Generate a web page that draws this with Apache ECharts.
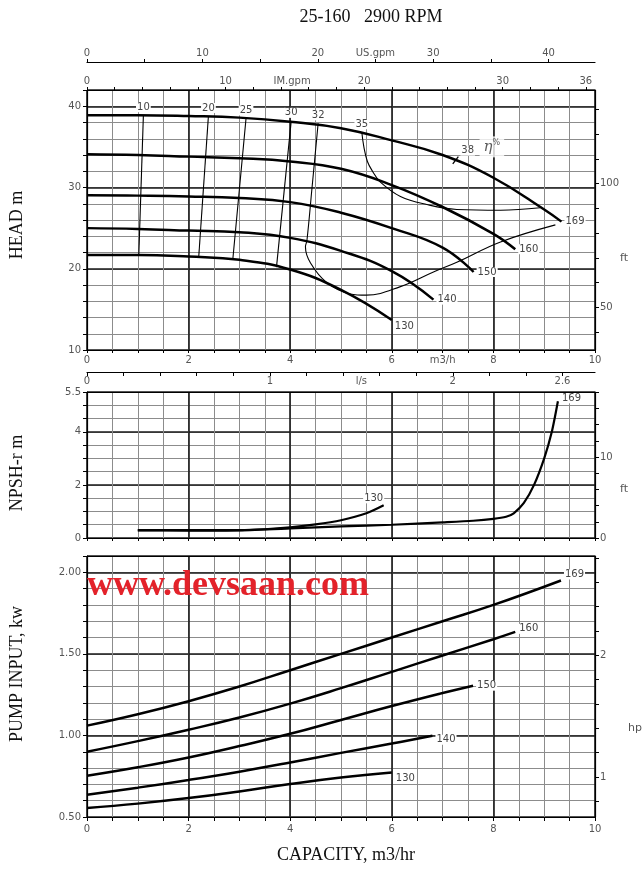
<!DOCTYPE html>
<html><head><meta charset="utf-8">
<script src="https://cdn.jsdelivr.net/npm/echarts@6/dist/echarts.min.js"></script>
<style>html,body{margin:0;padding:0;background:#fff}#c{width:644px;height:875px}</style>
</head><body><div id="c"></div>
<script>
// ---------------- DATA ----------------
// Head curves per impeller diameter: [flow m3/h, head m]
const head169 = [[0,38.9],[1,38.9],[2,38.8],[3,38.6],[4,38.1],[5,37.3],[6,35.8],[7,34.0],[8,31.2],[9,27.3],[9.34,25.8]];
const head160 = [[0,34.1],[1,34.0],[2,33.8],[3,33.6],[4,33.2],[5,32.3],[6,30.3],[7,27.6],[8,24.3],[8.43,22.4]];
const head150 = [[0,29.05],[1,29.0],[2,28.9],[3,28.7],[4,28.2],[5,26.9],[6,25.0],[7,22.6],[7.61,19.6]];
const head140 = [[0,25.0],[1,24.9],[2,24.7],[3,24.5],[4,23.8],[5,22.2],[6,19.7],[6.82,16.2]];
const head130 = [[0,21.7],[1,21.7],[2,21.5],[3,21.1],[4,19.9],[5,17.4],[6,13.7]];
// Iso-efficiency lines (%): [flow m3/h, head m]
const eff10 = [[1.11,38.9],[1.02,21.7]];
const eff20 = [[2.39,38.8],[2.20,21.5]];
const eff25 = [[3.13,38.5],[2.87,21.1]];
const eff30 = [[4.02,38.2],[3.73,20.2]];
const eff32 = [[4.55,37.9],[4.43,30.0],[4.33,23.5],[4.30,22.7],[4.40,20.7],[4.72,18.3],[5.18,16.9],[5.5,16.75],[6.17,17.8],[6.82,19.6],[7.28,20.8],[8.14,23.3],[9.22,25.4]];
const eff35 = [[5.41,36.8],[5.45,35.0],[5.52,33.2],[5.62,32.0],[5.77,30.7],[6.17,28.9],[6.69,27.9],[7.28,27.3],[8.14,27.2],[8.92,27.5]];
const eff38 = [[7.2,32.9],[7.31,33.8]];
// NPSH-r curves: [flow m3/h, NPSH m]
const npsh169 = [[1,0.29],[2,0.28],[3,0.29],[4,0.36],[5,0.44],[6,0.5],[7,0.59],[7.6,0.65],[8,0.72],[8.25,0.8],[8.4,0.93],[8.6,1.32],[8.8,2.0],[9.0,3.0],[9.15,4.0],[9.27,5.15]];
const npsh130 = [[1,0.30],[2,0.30],[3,0.30],[3.5,0.33],[4,0.40],[4.5,0.51],[5,0.67],[5.5,0.93],[5.84,1.23]];
// Pump input power: [flow m3/h, kW]
const pow169 = [[0,1.06],[1,1.13],[2,1.21],[3,1.30],[4,1.40],[5,1.50],[6,1.60],[7,1.70],[8,1.80],[9.33,1.95]];
const pow160 = [[0,0.90],[1,0.965],[2,1.035],[3,1.11],[4,1.195],[5,1.29],[6,1.39],[7,1.49],[8,1.59],[8.43,1.635]];
const pow150 = [[0,0.753],[1,0.805],[2,0.865],[3,0.935],[4,1.01],[5,1.095],[6,1.18],[7,1.26],[7.6,1.305]];
const pow140 = [[0,0.637],[1,0.68],[2,0.727],[3,0.778],[4,0.834],[5,0.893],[6,0.95],[6.8,0.998]];
const pow130 = [[0,0.555],[1,0.582],[2,0.616],[3,0.657],[4,0.702],[5,0.742],[6,0.773]];
// Secondary unit tick values / labels
const usGpmTicks = [0,5,10,15,20,25,30,35,40];
const usGpmLabels = [0,10,20,30,40];
const imGpmTicks = [0,2,4,6,8,10,12,14,16,18,20,22,24,26,28,30,32,34,36];
const imGpmLabels = [0,10,20,30,36];
const lsTicks = [0,0.2,0.4,0.6,0.8,1.0,1.2,1.4,1.6,1.8,2.0,2.2,2.4,2.6];
const lsLabels = [0,1,2,2.6];
const headFtTicks = [40,50,60,70,80,90,100,110,120,130];
const headFtLabels = [50,100];
const npshFtTicks = [0,2,4,6,8,10,12,14,16,18];
const npshFtLabels = [0,10];
const hpTicks = [0.8,1.0,1.2,1.4,1.6,1.8,2.0,2.2,2.4,2.6,2.8];
const hpLabels = [1,2];
const flowLabels = [0,2,4,6,8,10];

// ---------------- CONVERSIONS ----------------
const USGPM = 4.4029, IMGPM = 3.6662, LS = 1/3.6, FT = 3.2808, HP = 1.341;

const FONT = 'DejaVu Sans';
const txt = (o) => Object.assign({fontFamily: FONT, fontSize: 10, color: '#555'}, o || {});
const THIN = {show: true, lineStyle: {color: '#8c8c8c', width: 1}};
const THICK = {show: true, lineStyle: {color: '#1a1a1a', width: 1.6}};
const LINE = {onZero: false, lineStyle: {color: '#000', width: 1.2}};
const near = (a, b) => Math.abs(a - b) < 0.02;

function helperAxis(grid, pos, min, max, interval, showLine) {
  return {gridIndex: grid, type: 'value', position: pos, min, max, interval,
    axisLine: showLine ? LINE : {show: false}, axisTick: {show: false}, axisLabel: {show: false},
    splitLine: THICK};
}
function unitAxis(grid, pos, offset, min, max, ticks, labels, factor, extraLabel, unitName, opts) {
  opts = opts || {};
  const lab = labels.slice();
  if (extraLabel != null) lab.push(extraLabel);
  return {gridIndex: grid, type: 'value', position: pos, offset, min, max,
    axisLine: LINE,
    axisTick: {show: true, length: opts.tickLen || 3, inside: !!opts.inside, customValues: ticks.map(t => t / factor), lineStyle: {color: '#000'}},
    axisLabel: Object.assign(txt(), {show: true, inside: !!opts.inside, margin: opts.margin || 4,
      customValues: lab.map(t => t / factor),
      formatter: function (v) {
        const u = v * factor;
        if (extraLabel != null && near(u, extraLabel)) return opts.rich ? '{u|' + unitName + '}' : unitName;
        return String(Math.round(u * 10) / 10);
      },
      rich: opts.rich || undefined}),
    splitLine: {show: false}};
}

function curve(name, pts, xi, yi, width, labelOpt, labelAtStart, smooth) {
  const li = labelAtStart ? 0 : pts.length - 1;
  return {
    type: 'line', name, xAxisIndex: xi, yAxisIndex: yi, silent: true, animation: false,
    symbol: 'circle', symbolSize: 0, showSymbol: true, showAllSymbol: true,
    smooth: smooth == null ? 0.45 : smooth,
    lineStyle: {color: '#000', width},
    label: {show: false}, emphasis: {disabled: true}, z: 5,
    data: pts.map((p, i) => (labelOpt && i === li) ? {value: p, label: Object.assign(txt({
      show: true, formatter: name, backgroundColor: '#fff', padding: [0, 1], color: '#444'}), labelOpt)} : p)
  };
}

const chart = echarts.init(document.getElementById('c'), null, {renderer: 'canvas'});

const option = {
  backgroundColor: '#fff',
  animation: false,
  grid: [
    {left: 87, top: 90, width: 508, height: 260, outerBoundsMode: 'none', containLabel: false},
    {left: 87, top: 392, width: 508, height: 146, outerBoundsMode: 'none', containLabel: false},
    {left: 87, top: 556, width: 508, height: 261, outerBoundsMode: 'none', containLabel: false}
  ],
  xAxis: [
    // 0 head main (m3/h)
    {gridIndex: 0, type: 'value', position: 'bottom', min: 0, max: 10, interval: 0.5, axisLine: LINE,
      axisTick: {show: true, length: 3, lineStyle: {color: '#000'}},
      axisLabel: txt({margin: 5, formatter: v => v === 7 ? 'm3/h' : (flowLabels.indexOf(v) >= 0 ? String(v) : '')}),
      splitLine: THIN},
    // 1 head thick verticals
    helperAxis(0, 'top', 0, 10, 2, false),
    // 2 IM gpm
    unitAxis(0, 'top', 0, 0, 10, imGpmTicks, imGpmLabels, IMGPM, 14.8, 'IM.gpm'),
    // 3 US gpm
    unitAxis(0, 'top', 28, 0, 10, usGpmTicks, usGpmLabels, USGPM, 25, 'US.gpm'),
    // 4 npsh main
    {gridIndex: 1, type: 'value', position: 'bottom', min: 0, max: 10, interval: 0.5, axisLine: LINE,
      axisTick: {show: true, length: 3, lineStyle: {color: '#000'}}, axisLabel: {show: false}, splitLine: THIN},
    // 5 npsh thick + top border
    helperAxis(1, 'top', 0, 10, 2, true),
    // 6 l/s
    unitAxis(1, 'top', 20, 0, 10, lsTicks, lsLabels, LS, 1.5, 'l/s', {inside: true, tickLen: 4, margin: 4}),
    // 7 power main
    {gridIndex: 2, type: 'value', position: 'bottom', min: 0, max: 10, interval: 0.5, axisLine: LINE,
      axisTick: {show: true, length: 4, lineStyle: {color: '#000'}},
      axisLabel: txt({margin: 7, formatter: v => flowLabels.indexOf(v) >= 0 ? String(v) : ''}),
      splitLine: THIN},
    // 8 power thick + top border
    helperAxis(2, 'top', 0, 10, 2, true)
  ],
  yAxis: [
    // 0 head main
    {gridIndex: 0, type: 'value', position: 'left', min: 10, max: 42, interval: 2, axisLine: LINE,
      axisTick: {show: true, length: 4, lineStyle: {color: '#000'}},
      axisLabel: txt({margin: 6, formatter: v => (v % 10 === 0 && v <= 40) ? String(v) : ''}),
      splitLine: THIN},
    // 1 head thick
    helperAxis(0, 'left', 10, 42, 10, false),
    // 2 head ft
    unitAxis(0, 'right', 0, 10, 42, headFtTicks, headFtLabels, FT, 70, 'ft',
      {tickLen: 4, margin: 5, rich: {u: txt({fontSize: 11, padding: [0, 0, 0, 20]})}}),
    // 3 npsh main
    {gridIndex: 1, type: 'value', position: 'left', min: 0, max: 5.5, interval: 0.5, axisLine: LINE,
      axisTick: {show: true, length: 4, lineStyle: {color: '#000'}},
      axisLabel: txt({margin: 6, formatter: v => (v === 0 || v === 2 || v === 4 || v === 5.5) ? String(v) : ''}),
      splitLine: THIN},
    // 4 npsh thick
    helperAxis(1, 'left', 0, 5.5, 2, false),
    // 5 npsh ft
    unitAxis(1, 'right', 0, 0, 5.5, npshFtTicks, npshFtLabels, FT, 6, 'ft',
      {tickLen: 4, margin: 5, rich: {u: txt({fontSize: 11, padding: [0, 0, 0, 20]})}}),
    // 6 power main
    {gridIndex: 2, type: 'value', position: 'left', min: 0.5, max: 2.1, interval: 0.1, axisLine: LINE,
      axisTick: {show: true, length: 4, lineStyle: {color: '#000'}},
      axisLabel: txt({margin: 6, formatter: function (v) {
        const r = Math.round(v * 100) / 100;
        return (Math.abs(r * 2 - Math.round(r * 2)) < 1e-6 && r <= 2.0) ? r.toFixed(2) : '';
      }}),
      splitLine: THIN},
    // 7 power thick
    helperAxis(2, 'left', 0.5, 2.1, 0.5, false),
    // 8 hp
    unitAxis(2, 'right', 0, 0.5, 2.1, hpTicks, hpLabels, HP, 1.4, 'hp',
      {tickLen: 4, margin: 5, rich: {u: txt({fontSize: 11, padding: [0, 0, 0, 28]})}})
  ],
  series: [
    // head
    curve('169', head169, 0, 0, 2.5, {position: 'right', distance: 3}),
    curve('160', head160, 0, 0, 2.5, {position: 'right', distance: 3}),
    curve('150', head150, 0, 0, 2.5, {position: 'right', distance: 3}),
    curve('140', head140, 0, 0, 2.5, {position: 'right', distance: 3}),
    curve('130', head130, 0, 0, 2.5, {position: 'right', distance: 2, offset: [0, 6]}),
    // efficiency
    curve('10', eff10, 0, 0, 1.1, {position: 'top', distance: 3}, true, 0),
    curve('20', eff20, 0, 0, 1.1, {position: 'top', distance: 3}, true, 0),
    curve('25', eff25, 0, 0, 1.1, {position: 'top', distance: 3}, true, 0),
    curve('30', eff30, 0, 0, 1.1, {position: 'top', distance: 3}, true, 0),
    curve('32', eff32, 0, 0, 1.1, {position: 'top', distance: 3}, true, 0.4),
    curve('35', eff35, 0, 0, 1.1, {position: 'top', distance: 3}, true, 0.4),
    curve('38', eff38, 0, 0, 1.3, {position: 'right', distance: 2, offset: [0, -6]}, false, 0),
    {type: 'scatter', xAxisIndex: 0, yAxisIndex: 0, silent: true, symbolSize: 0, z: 4,
      data: [[7.97, 35.0]],
      label: {show: true, position: 'inside', formatter: '{a|η}{b|%}', backgroundColor: '#fff', padding: [3, 4, 3, 4],
        rich: {a: {fontFamily: 'DejaVu Serif', fontSize: 15, fontStyle: 'italic', color: '#333'},
               b: {fontFamily: FONT, fontSize: 8, color: '#333', verticalAlign: 'top', padding: [0, 0, 6, 0]}}}},
    // npsh
    curve('169', npsh169, 4, 3, 2.2, {position: 'right', distance: 3, offset: [0, -3]}, false, 0.25),
    curve('130', npsh130, 4, 3, 2.2, {position: 'top', distance: 2, offset: [-10, 0]}, false, 0.3),
    // power
    curve('169', pow169, 7, 6, 2.5, {position: 'right', distance: 3, offset: [0, -6]}),
    curve('160', pow160, 7, 6, 2.5, {position: 'right', distance: 3, offset: [0, -3]}),
    curve('150', pow150, 7, 6, 2.5, {position: 'right', distance: 3}),
    curve('140', pow140, 7, 6, 2.5, {position: 'right', distance: 3, offset: [0, 4]}),
    curve('130', pow130, 7, 6, 2.5, {position: 'right', distance: 3, offset: [0, 6]})
  ],
  graphic: [
    {type: 'text', x: 371, y: 17, z: 100, style: {text: '25-160   2900 RPM', font: '18px "Liberation Serif"', fill: '#111', textAlign: 'center', textVerticalAlign: 'middle'}},
    {type: 'text', x: 17, y: 225, rotation: Math.PI / 2, z: 100, style: {text: 'HEAD m', font: '18px "Liberation Serif"', fill: '#111', textAlign: 'center', textVerticalAlign: 'middle'}},
    {type: 'text', x: 17, y: 473, rotation: Math.PI / 2, z: 100, style: {text: 'NPSH-r m', font: '18px "Liberation Serif"', fill: '#111', textAlign: 'center', textVerticalAlign: 'middle'}},
    {type: 'text', x: 17, y: 674, rotation: Math.PI / 2, z: 100, style: {text: 'PUMP INPUT, kw', font: '18px "Liberation Serif"', fill: '#111', textAlign: 'center', textVerticalAlign: 'middle'}},
    {type: 'text', x: 346, y: 855, z: 100, style: {text: 'CAPACITY, m3/hr', font: '18px "Liberation Serif"', fill: '#111', textAlign: 'center', textVerticalAlign: 'middle'}},
    {type: 'text', x: 87, y: 586, z: 100, style: {text: 'www.devsaan.com', font: 'bold 36px "Liberation Serif"', fill: '#e3222a', textAlign: 'left', textVerticalAlign: 'middle'}}
  ]
};
chart.setOption(option);
</script></body></html>
